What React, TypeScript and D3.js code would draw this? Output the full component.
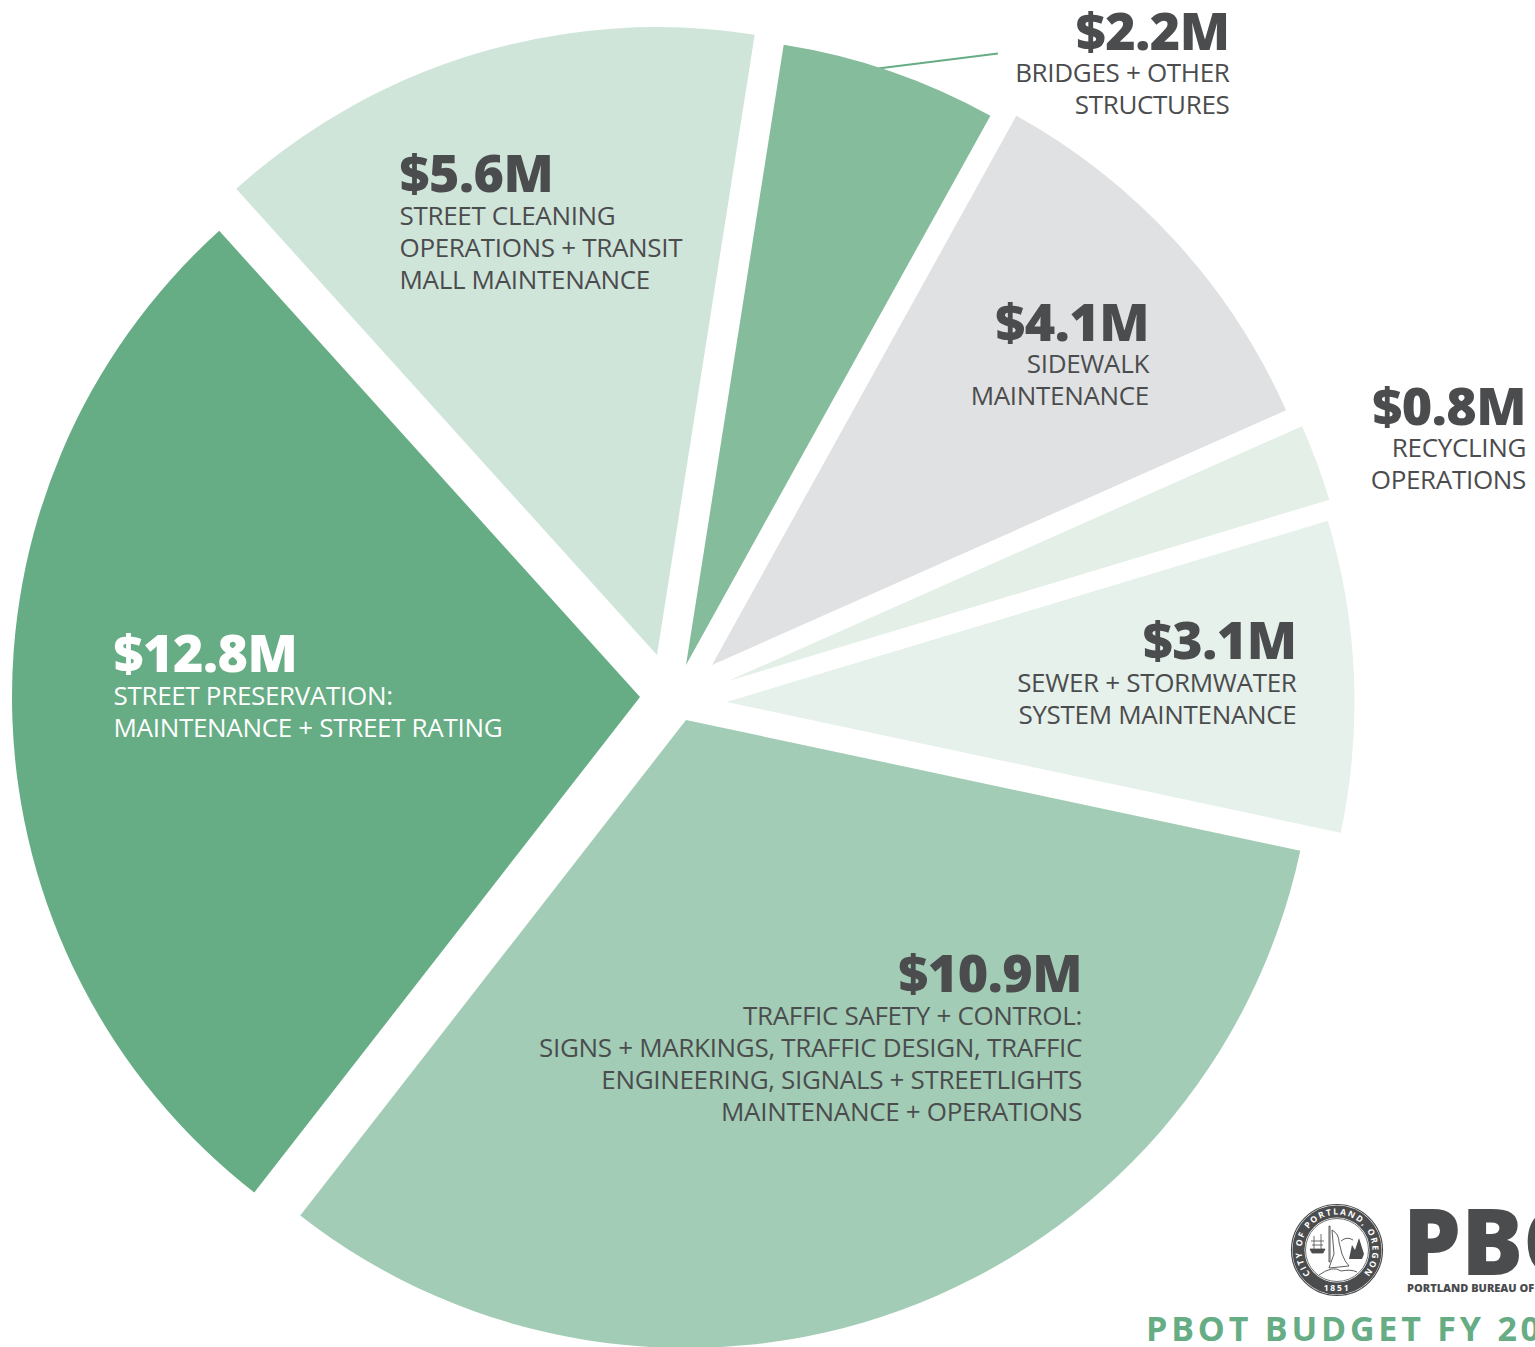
import React, { useEffect, useRef } from 'react'
import * as d3 from 'd3'

// amounts as printed, clockwise from the bridges slice
const amounts = ['$2.2M', '$4.1M', '$0.8M', '$3.1M', '$10.9M', '$12.8M', '$5.6M']
// slice sizes (the two big wedges are drawn the other way round from their labels)
const wedgeSizes = [2.2, 4.07, 0.785, 3.16, 12.72, 10.98, 5.6]
const descriptions = [
    ['BRIDGES + OTHER', 'STRUCTURES'],
    ['SIDEWALK', 'MAINTENANCE'],
    ['RECYCLING', 'OPERATIONS'],
    ['SEWER + STORMWATER', 'SYSTEM MAINTENANCE'],
    ['TRAFFIC SAFETY + CONTROL:', 'SIGNS + MARKINGS, TRAFFIC DESIGN, TRAFFIC', 'ENGINEERING, SIGNALS + STREETLIGHTS', 'MAINTENANCE + OPERATIONS'],
    ['STREET PRESERVATION:', 'MAINTENANCE + STREET RATING'],
    ['STREET CLEANING', 'OPERATIONS + TRANSIT', 'MALL MAINTENANCE'],
]
const colors = ['#85bc9b', '#e0e1e3', '#e3efe7', '#e6f1eb', '#a2ccb5', '#66ac84', '#d0e5da']

// layout: each wedge is pulled out to its own apex
const apexes = [[686, 665], [712, 665], [728, 681], [726.5, 702], [686, 720], [640, 697], [657, 655]]
const labelPos = [
    { x: 1229.5, y: 50, descY: 32, anchor: 'end', fill: '#4b4c4e' },
    { x: 1149, y: 341, descY: 32, anchor: 'end', fill: '#4b4c4e' },
    { x: 1526, y: 425, descY: 32, anchor: 'end', fill: '#4b4c4e' },
    { x: 1296.5, y: 659, descY: 33, anchor: 'end', fill: '#4b4c4e' },
    { x: 1082, y: 992, descY: 33, anchor: 'end', fill: '#4b4c4e' },
    { x: 113.5, y: 672, descY: 33, anchor: 'start', fill: '#ffffff' },
    { x: 399.5, y: 192, descY: 33, anchor: 'start', fill: '#4b4c4e' },
]

const width = 1535
const height = 1347
const radius = 628
const fontFamily = '"Open Sans", sans-serif'
const dark = '#4b4c4e'
const green = '#66ac84'

const App = () => {
    const ref = useRef<SVGSVGElement>(null)

    useEffect(() => {
        const svg = d3.select(ref.current)
        svg.selectAll('*').remove()

        const pie = d3.pie<number>()
            .sort(null)
            .startAngle((8.95 * Math.PI) / 180)
            .endAngle((368.95 * Math.PI) / 180)
        const arc = d3.arc<d3.PieArcDatum<number>>().innerRadius(0).outerRadius(radius)

        svg.append('line')
            .attr('x1', 870).attr('y1', 69.5)
            .attr('x2', 998).attr('y2', 53.5)
            .attr('stroke', green)
            .attr('stroke-width', 2)

        svg.append('g')
            .selectAll('path')
            .data(pie(wedgeSizes))
            .join('path')
            .attr('transform', (d, i) => `translate(${apexes[i][0]},${apexes[i][1]})`)
            .attr('d', arc)
            .attr('fill', (d, i) => colors[i])

        const labels = svg.append('g')
            .attr('font-family', fontFamily)
            .selectAll('g')
            .data(amounts)
            .join('g')
            .attr('transform', (d, i) => `translate(${labelPos[i].x},${labelPos[i].y})`)
            .attr('text-anchor', (d, i) => labelPos[i].anchor)
            .attr('fill', (d, i) => labelPos[i].fill)

        labels.append('text')
            .attr('font-size', 52)
            .attr('font-weight', 800)
            .attr('letter-spacing', -0.5)
            .text(d => d)

        labels.each(function (d, i) {
            d3.select(this)
                .selectAll('text.desc')
                .data(descriptions[i])
                .join('text')
                .attr('class', 'desc')
                .attr('y', (t, j) => labelPos[i].descY + j * 32)
                .attr('font-size', 26)
                .attr('letter-spacing', -0.32)
                .text(t => t)
        })

        // logo block, runs off the right edge like the source page
        svg.append('text')
            .attr('x', 1403).attr('y', 1275)
            .attr('font-family', fontFamily)
            .attr('font-size', 92)
            .attr('font-weight', 800)
            .attr('fill', dark)
            .text('PBOT')
        svg.append('text')
            .attr('x', 1407).attr('y', 1292)
            .attr('font-family', fontFamily)
            .attr('font-size', 11)
            .attr('font-weight', 800)
            .attr('fill', dark)
            .text('PORTLAND BUREAU OF TRANSPORTATION')
        svg.append('text')
            .attr('x', 1146).attr('y', 1341)
            .attr('font-family', fontFamily)
            .attr('font-size', 34)
            .attr('font-weight', 700)
            .attr('letter-spacing', 3.8)
            .attr('fill', green)
            .text('PBOT BUDGET FY 2019-20')

        // city seal
        const seal = svg.append('g').attr('transform', 'translate(1337,1250)')
        seal.append('circle').attr('r', 45.5).attr('fill', 'none').attr('stroke', dark).attr('stroke-width', 1.2)
        seal.append('circle').attr('r', 38.5).attr('fill', 'none').attr('stroke', dark).attr('stroke-width', 12)
        seal.append('circle').attr('r', 31.5).attr('fill', '#fff').attr('stroke', dark).attr('stroke-width', 0.8)
        seal.append('path').attr('id', 'sealTop')
            .attr('d', d3.arc()({ innerRadius: 35.5, outerRadius: 35.5, startAngle: -Math.PI * 0.75, endAngle: Math.PI * 0.75 }) as string)
            .attr('fill', 'none')
        seal.append('text')
            .attr('font-family', fontFamily).attr('font-size', 8.5).attr('font-weight', 700)
            .attr('fill', '#fff').attr('letter-spacing', 1.75)
            .append('textPath').attr('href', '#sealTop').attr('startOffset', '0.5%')
            .text('CITY OF PORTLAND, OREGON')
        seal.append('text')
            .attr('y', 41).attr('text-anchor', 'middle')
            .attr('font-family', fontFamily).attr('font-size', 8.5).attr('font-weight', 700)
            .attr('fill', '#fff').attr('letter-spacing', 1.8)
            .text('1851')
        // figure, ship and trees, just rough shapes at this size
        seal.append('path')
            .attr('d', 'M-8,-24 L-7,-24 L-7,12 L-8,12 Z M-5,-20 Q2,-16 2,-8 L5,4 Q8,12 12,16 L-8,18 L-3,4 L-4,-8 Z')
            .attr('fill', 'none').attr('stroke', dark).attr('stroke-width', 0.9)
        seal.append('path')
            .attr('d', 'M-27,-1 L-12,-1 L-14,3 L-25,3 Z M-23,-14 L-23,-1 M-16,-16 L-16,-1 M-26,-9 L-13,-9 M-25,-5 L-14,-5')
            .attr('fill', dark).attr('stroke', dark).attr('stroke-width', 0.8)
        seal.append('path')
            .attr('d', 'M12,9 L15,-5 L18,0 L22,-12 L27,4 L25,9 Z')
            .attr('fill', dark)
        seal.append('path')
            .attr('d', 'M4,-9 Q10,-14 16,-10 M-18,25 Q-4,15 4,21 Q14,19 20,22')
            .attr('fill', 'none').attr('stroke', dark).attr('stroke-width', 0.9)
    }, [])

    return (
        <svg
            ref={ref}
            width={width}
            height={height}
            viewBox={`0 0 ${width} ${height}`}
            style={{ position: 'absolute', left: 0, top: 0, display: 'block', background: '#fff' }}
        />
    )
}

export default App
